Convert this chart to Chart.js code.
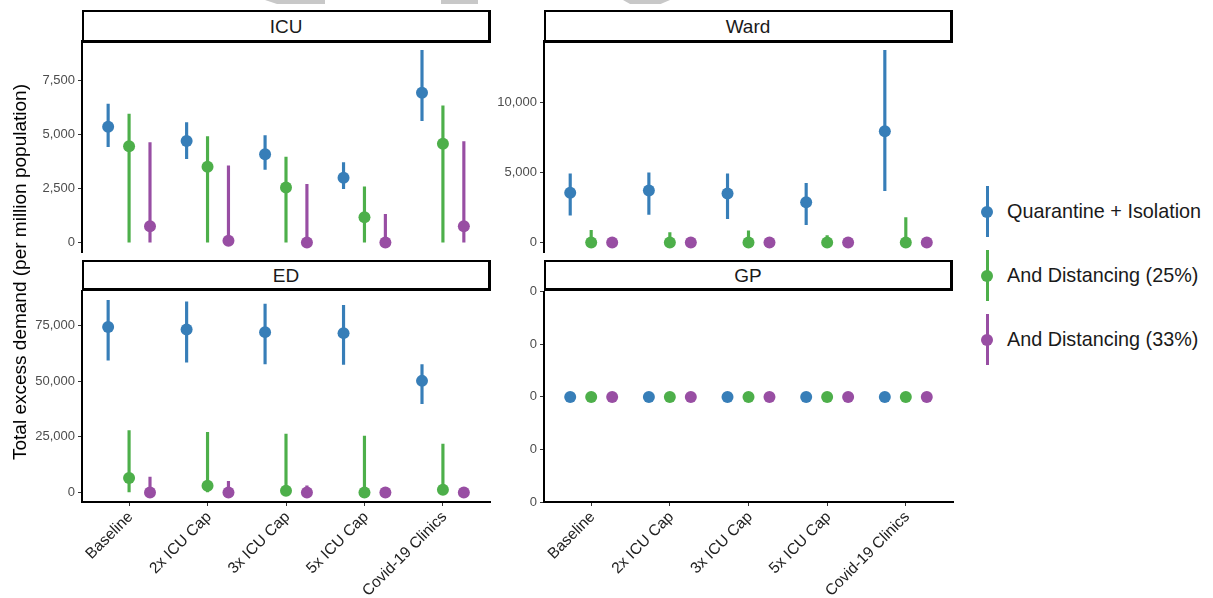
<!DOCTYPE html>
<html><head><meta charset="utf-8">
<script src="https://cdn.jsdelivr.net/npm/chart.js@4.4.1/dist/chart.umd.min.js"></script>
<style>
body{margin:0;background:#fff;width:1213px;height:598px;overflow:hidden;position:relative;font-family:"Liberation Sans",Arial,sans-serif;}
canvas{position:absolute;}
.strip{position:absolute;box-sizing:border-box;border:2px solid #000;border-right-width:3px;border-bottom-width:3px;background:#fff;text-align:center;font-size:19px;color:#1a1a1a;z-index:2;}
.ytitle{position:absolute;left:20px;top:272px;transform:translate(-50%,-50%) rotate(-90deg);white-space:nowrap;font-size:19px;color:#000;}
.leg{position:absolute;left:981px;height:51px;width:230px;}
.leg .ln{position:absolute;left:5px;top:0;width:2.5px;height:51px;}
.leg .dt{position:absolute;left:0;top:19.5px;width:12px;height:12px;border-radius:50%;}
.leg .tx{position:absolute;left:26px;top:13px;font-size:19.8px;color:#1a1a1a;white-space:nowrap;line-height:24px;}
.wm{position:absolute;top:0;height:4px;background:#c8c8c8;}
</style></head>
<body>
<div class="wm" style="left:265px;width:60px;clip-path:polygon(0 0,100% 0,100% 100%,20% 100%)"></div>
<div class="wm" style="left:441px;width:37px;"></div>
<div class="wm" style="left:623px;width:47px;clip-path:polygon(0 0,100% 0,80% 100%,15% 100%)"></div>

<div id="panels"></div>

<div class="strip" style="left:82px;top:10px;width:409px;height:33px;line-height:29px;">ICU</div>
<div class="strip" style="left:544px;top:10px;width:409px;height:33px;line-height:29px;">Ward</div>
<div class="strip" style="left:82px;top:260px;width:409px;height:31px;line-height:27px;">ED</div>
<div class="strip" style="left:544px;top:260px;width:409px;height:31px;line-height:27px;">GP</div>

<div class="ytitle">Total excess demand (per million population)</div>
<div id="legend"></div>

<script>
const categories = ['Baseline', '2x ICU Cap', '3x ICU Cap', '5x ICU Cap', 'Covid-19 Clinics'];
const seriesNames = ['Quarantine + Isolation', 'And Distancing (25%)', 'And Distancing (33%)'];
const seriesColors = ['#377EB8', '#4DAF4A', '#984EA3'];

// ICU
const icuQI    = [5350, 4690, 4075, 2995, 6915];
const icuQIlo  = [4430, 3875, 3380, 2485, 5630];
const icuQIhi  = [6400, 5540, 4940, 3690, 8875];
const icuD25   = [4450, 3500, 2545, 1175, 4565];
const icuD25lo = [0, 0, 0, 0, 0];
const icuD25hi = [5940, 4890, 3950, 2580, 6310];
const icuD33   = [755, 80, 5, 5, 755];
const icuD33lo = [0, 0, 0, 0, 0];
const icuD33hi = [4615, 3550, 2685, 1310, 4660];
const icuTicks = [0, 2500, 5000, 7500];

// Ward
const wardQI    = [3565, 3730, 3515, 2895, 7965];
const wardQIlo  = [1960, 2010, 1720, 1290, 3710];
const wardQIhi  = [4930, 5000, 4930, 4235, 13755];
const wardD25   = [0, 0, 0, 0, 0];
const wardD25lo = [0, 0, 0, 0, 0];
const wardD25hi = [885, 720, 835, 500, 1795];
const wardD33   = [0, 0, 0, 0, 0];
const wardD33lo = [0, 0, 0, 0, 0];
const wardD33hi = [0, 0, 0, 0, 0];
const wardTicks = [0, 5000, 10000];

// ED
const edQI    = [74400, 73350, 72140, 71690, 50200];
const edQIlo  = [59520, 58620, 57870, 57570, 39980];
const edQIhi  = [86420, 85820, 84770, 84170, 57570];
const edD25   = [6460, 3005, 750, 0, 1200];
const edD25lo = [0, 0, 0, 0, 0];
const edD25hi = [27800, 27050, 26300, 25400, 21800];
const edD33   = [0, 0, 0, 0, 0];
const edD33lo = [0, 0, 0, 0, 0];
const edD33hi = [6900, 4950, 3000, 1000, 800];
const edTicks = [0, 25000, 50000, 75000];

// GP
const gpQI    = [0, 0, 0, 0, 0];
const gpQIlo  = [0, 0, 0, 0, 0];
const gpQIhi  = [0, 0, 0, 0, 0];
const gpD25   = [0, 0, 0, 0, 0];
const gpD25lo = [0, 0, 0, 0, 0];
const gpD25hi = [0, 0, 0, 0, 0];
const gpD33   = [0, 0, 0, 0, 0];
const gpD33lo = [0, 0, 0, 0, 0];
const gpD33hi = [0, 0, 0, 0, 0];
const gpTicks = [-0.05, -0.025, 0, 0.025, 0.05];

const FONT = '"Liberation Sans", Arial, sans-serif';
const DODGE = 0.8 / 3;
const fmt = v => Math.round(v).toLocaleString('en-US').replace('-0', '0');

function buildConfig(series, yTicks, yW, showX, range) {
  const datasets = [];
  series.forEach((s, k) => {
    const off = (k - 1) * DODGE;
    datasets.push({
      type: 'bar', order: 1, grouped: false, barThickness: 2.5, borderWidth: 0,
      backgroundColor: seriesColors[k],
      data: categories.map((c, i) => ({x: i + 1 + off, y: [s.lo[i], s.hi[i]]}))
    });
    datasets.push({
      type: 'scatter', order: 0, pointRadius: 6, pointHoverRadius: 6, borderWidth: 0,
      backgroundColor: seriesColors[k], clip: false,
      data: categories.map((c, i) => ({x: i + 1 + off, y: s.mean[i]}))
    });
  });
  let ymin, ymax;
  if (range) { ymin = range[0]; ymax = range[1]; }
  else {
    let lo = Infinity, hi = -Infinity;
    series.forEach(s => { s.lo.concat(s.hi, s.mean).forEach(v => { lo = Math.min(lo, v); hi = Math.max(hi, v); }); });
    const pad = (hi - lo) * 0.05;
    ymin = lo - pad; ymax = hi + pad;
  }
  const tickGrid = {display: true, offset: false, drawOnChartArea: false, drawTicks: true, tickLength: 4, color: '#333', lineWidth: 1};
  return {
    type: 'scatter',
    data: {datasets},
    options: {
      responsive: false, maintainAspectRatio: false, animation: false, devicePixelRatio: 1,
      layout: {padding: 0},
      plugins: {legend: {display: false}, tooltip: {enabled: false}},
      events: [],
      scales: {
        x: {
          type: 'linear', min: 0.4, max: 5.6, offset: false, display: showX,
          grid: tickGrid,
          border: {display: true, color: '#000', width: 2},
          ticks: {autoSkip: false, maxRotation: 45, minRotation: 45, padding: 2, labelOffset: 1.5,
            font: {size: 15.5, family: FONT}, color: '#222',
            callback: (v, i) => categories[i]},
          afterBuildTicks: sc => { sc.ticks = categories.map((c, i) => ({value: i + 1})); },
          afterFit: sc => { sc.height = showX ? 96 : 0; }
        },
        y: {
          type: 'linear', min: ymin, max: ymax,
          grid: tickGrid,
          border: {display: true, color: '#000', width: 2},
          ticks: {padding: 3, font: {size: 13, family: FONT}, color: '#4d4d4d', callback: v => fmt(v)},
          afterBuildTicks: sc => { sc.ticks = yTicks.map(v => ({value: v})); },
          afterFit: sc => { sc.width = yW; }
        }
      }
    }
  };
}

const host = document.getElementById('panels');
function newCanvas(W, H, left, top) {
  const cv = document.createElement('canvas');
  cv.width = W; cv.height = H;
  cv.style.width = W + 'px'; cv.style.height = H + 'px';
  cv.style.left = left + 'px'; cv.style.top = top + 'px';
  host.appendChild(cv);
  return cv;
}

// place a panel so that its plotting area lands on the target rectangle
function makePanel(series, yTicks, yW, showX, range, rect) {
  const [x0, y0, x1, y1] = rect;
  let W = (x1 - x0) + yW + 40, H = (y1 - y0) + (showX ? 96 : 0) + 40;
  let left = x0 - yW, top = y0 - 20;
  for (let pass = 0; pass < 4; pass++) {
    const cv = newCanvas(W, H, left, top);
    const chart = new Chart(cv, buildConfig(series, yTicks, yW, showX, range));
    const ca = chart.chartArea;
    const padL = ca.left, padT = ca.top, padR = W - ca.right, padB = H - ca.bottom;
    const nW = Math.round((x1 - x0) + padL + padR), nH = Math.round((y1 - y0) + padT + padB);
    const nLeft = x0 - padL, nTop = y0 - padT;
    if (nW === W && nH === H && nLeft === left && nTop === top) return;
    chart.destroy();
    cv.remove();
    W = nW; H = nH; left = nLeft; top = nTop;
  }
  const cv = newCanvas(W, H, left, top);
  new Chart(cv, buildConfig(series, yTicks, yW, showX, range));
}

makePanel([
  {mean: icuQI, lo: icuQIlo, hi: icuQIhi},
  {mean: icuD25, lo: icuD25lo, hi: icuD25hi},
  {mean: icuD33, lo: icuD33lo, hi: icuD33hi}], icuTicks, 82, false, null, [82, 41, 490, 252]);
makePanel([
  {mean: wardQI, lo: wardQIlo, hi: wardQIhi},
  {mean: wardD25, lo: wardD25lo, hi: wardD25hi},
  {mean: wardD33, lo: wardD33lo, hi: wardD33hi}], wardTicks, 54, false, null, [544, 41, 953, 252]);
makePanel([
  {mean: edQI, lo: edQIlo, hi: edQIhi},
  {mean: edD25, lo: edD25lo, hi: edD25hi},
  {mean: edD33, lo: edD33lo, hi: edD33hi}], edTicks, 82, true, null, [82, 291, 490, 502]);
makePanel([
  {mean: gpQI, lo: gpQIlo, hi: gpQIhi},
  {mean: gpD25, lo: gpD25lo, hi: gpD25hi},
  {mean: gpD33, lo: gpD33lo, hi: gpD33hi}], gpTicks, 54, true, [-0.05, 0.05], [544, 292, 953, 502]);

const legTops = [186, 250, 314];
const legEl = document.getElementById('legend');
seriesNames.forEach((n, k) => {
  const d = document.createElement('div');
  d.className = 'leg';
  d.style.top = legTops[k] + 'px';
  d.innerHTML = '<div class="ln" style="background:' + seriesColors[k] + '"></div>' +
    '<div class="dt" style="background:' + seriesColors[k] + '"></div>' +
    '<div class="tx">' + n + '</div>';
  legEl.appendChild(d);
});
</script>
</body></html>
